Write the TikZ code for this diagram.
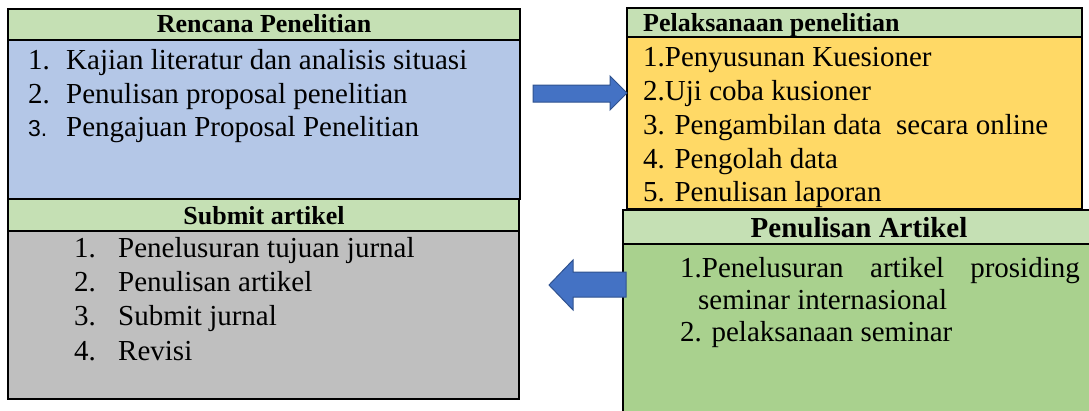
\documentclass[tikz,border=0pt]{standalone}
\usepackage{fontspec}
\setmainfont{Liberation Serif}
\newfontfamily\numsans{Liberation Sans}
\begin{document}
\begin{tikzpicture}[x=1pt,y=-1pt,
  box/.style={draw=black,line width=1.6pt,anchor=north west,inner sep=0pt,outer sep=0pt},
  hdr/.style={draw=black,line width=1.2pt,fill=hdrgreen,anchor=north west,inner sep=0pt,outer sep=0pt},
  htext/.style={font=\fontsize{26}{30}\selectfont\bfseries,inner sep=0pt,anchor=base},
  item/.style={font=\fontsize{29}{33}\selectfont,inner sep=0pt,anchor=base west},
  blockarrow/.style={fill=arrowblue,draw=arrowedge,line width=1pt,line join=miter}
]
\definecolor{hdrgreen}{HTML}{C5E0B4}
\definecolor{planblue}{HTML}{B4C7E7}
\definecolor{execyellow}{HTML}{FFD966}
\definecolor{subgray}{HTML}{BFBFBF}
\definecolor{artgreen}{HTML}{A9D18E}
\definecolor{arrowblue}{HTML}{4472C4}
\definecolor{arrowedge}{HTML}{2F528F}
\useasboundingbox (0,0) rectangle (1089,410);
\clip (0,0) rectangle (1089,410);

% Rencana Penelitian
\node[box,fill=planblue,minimum width=512pt,minimum height=190pt] (ren) at (8,9) {};
\node[hdr,minimum width=512pt,minimum height=31pt] (renh) at (8,9) {};
\node[htext] (rent) at (264,32) {Rencana Penelitian};
\node[item] (r1n) at (28,69) {1.};
\node[item] (r1) at (66,69) {Kajian literatur dan analisis situasi};
\node[item] (r2n) at (28,103) {2.};
\node[item] (r2) at (66,103) {Penulisan proposal penelitian};
\node[item,font=\numsans\fontsize{23}{28}\selectfont] (r3n) at (28,136) {3.};
\node[item] (r3) at (66,136) {Pengajuan Proposal Penelitian};
\draw[box] (ren.north west) rectangle (ren.south east);

% Submit artikel
\node[box,fill=subgray,minimum width=511pt,minimum height=200pt] (sub) at (8,199) {};
\node[hdr,minimum width=511pt,minimum height=32pt] (subh) at (8,199) {};
\node[htext] (subt) at (264,224) {Submit artikel};
\node[item] (s1n) at (74,257) {1.};
\node[item] (s1) at (118,257) {Penelusuran tujuan jurnal};
\node[item] (s2n) at (74,291) {2.};
\node[item] (s2) at (118,291) {Penulisan artikel};
\node[item] (s3n) at (74,325) {3.};
\node[item] (s3) at (118,325) {Submit jurnal};
\node[item] (s4n) at (74,360) {4.};
\node[item] (s4) at (118,360) {Revisi};
\draw[box] (sub.north west) rectangle (sub.south east);

% Pelaksanaan penelitian
\node[box,fill=execyellow,minimum width=455pt,minimum height=201pt] (pel) at (627,8) {};
\node[hdr,minimum width=455pt,minimum height=29pt] (pelh) at (627,8) {};
\node[htext,anchor=base west] (pelt) at (643,31) {Pelaksanaan penelitian};
\node[item] (p1) at (643,66) {1.Penyusunan Kuesioner};
\node[item] (p2) at (643,100) {2.Uji coba kusioner};
\node[item] (p3) at (643,134) {3. Pengambilan data\ \ secara online};
\node[item] (p4) at (643,168) {4. Pengolah data};
\node[item] (p5) at (643,201) {5. Penulisan laporan};
\draw[box] (pel.north west) rectangle (pel.south east);

% Penulisan Artikel
\node[box,fill=artgreen,minimum width=480pt,minimum height=210pt] (pen) at (623,210) {};
\node[hdr,minimum width=480pt,minimum height=34pt] (penh) at (623,210) {};
\node[htext,font=\fontsize{29}{33}\selectfont\bfseries] (pent) at (859,237) {Penulisan Artikel};
\node[item] (a1a) at (680,277) {1.Penelusuran};
\node[item] (a1b) at (870,277) {artikel};
\node[item,anchor=base east] (a1c) at (1080,277) {prosiding};
\node[item] (a1d) at (698,309) {seminar internasional};
\node[item] (a2) at (680,341) {2. pelaksanaan seminar};
\draw[box] (pen.north west) rectangle (pen.south east);

% block arrows (Rencana -> Pelaksanaan, Penulisan -> Submit)
\draw[blockarrow] (533,85) -- (610,85) -- (610,76) -- (pel.west |- 0,93) -- (610,110) -- (610,102) -- (533,102) -- cycle;
\draw[blockarrow] (626,272) -- (573,272) -- (573,260) -- (549,285) -- (573,310) -- (573,297) -- (626,297) -- cycle;
\end{tikzpicture}
\end{document}
